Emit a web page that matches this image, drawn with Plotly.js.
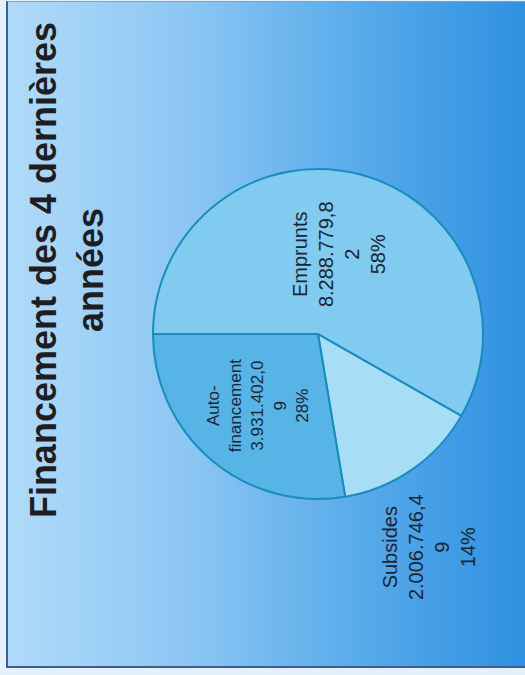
<!DOCTYPE html>
<html>
<head>
<meta charset="utf-8">
<script src="https://cdn.plot.ly/plotly-3.0.1.min.js"></script>
<style>
  html, body { margin: 0; padding: 0; width: 525px; height: 675px; overflow: hidden; background: #e4f0fb; }
  #frame {
    position: absolute; left: 6px; top: 1px; width: 519px; height: 667px;
    box-sizing: border-box; border-left: 2px solid #3d5d8c; border-bottom: 2px solid #3d5d8c; border-top: 1px solid #8aa0b8;
    background: linear-gradient(to right, #b0daf9 0%, #8cc6f3 35%, #55a9ea 70%, #2f91e1 100%);
  }
  #chart {
    position: absolute; left: 0; top: 0; width: 675px; height: 525px;
    transform-origin: 0 0; transform: translateY(675px) rotate(-90deg);
  }
</style>
</head>
<body>
<div id="frame"></div>
<div id="chart"></div>
<script>
// Data (listed clockwise from 12 o'clock of the unrotated chart)
const categories = ['Emprunts', 'Subsides', 'Auto-financement'];
const labelLines = ['Emprunts', 'Subsides', 'Auto-<br>financement'];
const values = [8288779.82, 2006746.49, 3931402.09];
const sliceColors = ['#82cbf0', '#a8ddf6', '#56b5e6'];
const textPositions = ['inside', 'outside', 'inside'];

function fmt(v) {
  const s = v.toFixed(2);
  const parts = s.split('.');
  const full = parts[0].replace(/\B(?=(\d{3})+(?!\d))/g, '.') + ',' + parts[1];
  return full.slice(0, -1) + '<br>' + full.slice(-1);
}
const valueText = values.map(fmt);
const customText = labelLines.map((l, i) => l + '<br>' + valueText[i]);

const trace = {
  type: 'pie',
  labels: categories,
  values: values,
  customdata: customText,
  texttemplate: '%{customdata}<br>%{percent:.0%}',
  textposition: textPositions,
  insidetextorientation: 'horizontal',
  sort: false,
  direction: 'clockwise',
  rotation: 0,
  marker: { colors: sliceColors, line: { color: '#1a8cbc', width: 2 } },
  textfont: { family: 'Liberation Sans, Arial, sans-serif', size: 20, color: '#1c2632' },
  domain: { x: [0.2607, 0.7496], y: [0.08, 0.7086] },
  showlegend: false,
  hoverinfo: 'skip'
};

const layout = {
  width: 675, height: 525,
  margin: { l: 0, r: 0, t: 0, b: 0 },
  paper_bgcolor: 'rgba(0,0,0,0)',
  plot_bgcolor: 'rgba(0,0,0,0)',
  title: {
    text: 'Financement des 4 dernières<br>années',
    font: { family: 'Liberation Sans, Arial, sans-serif', size: 36, color: '#1e1e22', weight: 'bold' },
    x: 0.6, xref: 'container', xanchor: 'center',
    y: 0.893, yref: 'container', yanchor: 'top'
  },
  showlegend: false
};

Plotly.newPlot('chart', [trace], layout, { displayModeBar: false, staticPlot: true });
</script>
</body>
</html>
